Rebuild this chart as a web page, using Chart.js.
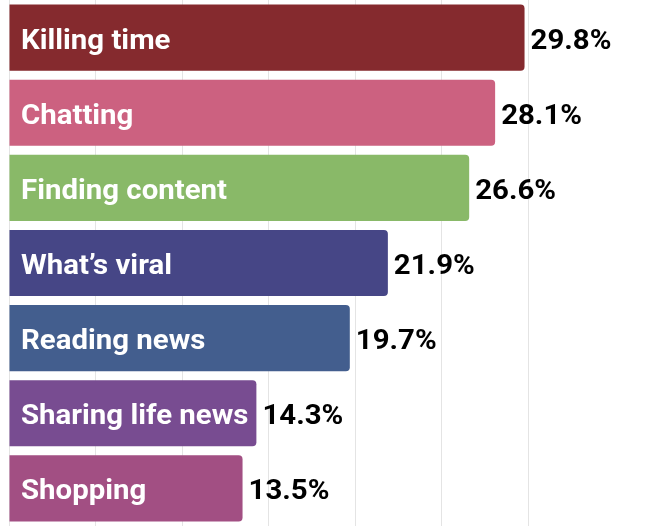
<!DOCTYPE html>
<html>
<head>
<meta charset="utf-8">
<script src="https://cdn.jsdelivr.net/npm/chart.js@4/dist/chart.umd.min.js"></script>
<style>
  html, body { margin: 0; padding: 0; background: #fff; }
  #wrap { width: 646px; height: 532px; }
</style>
</head>
<body>
<div id="wrap"><canvas id="myChart"></canvas></div>
<script>
const categories = ["Killing time", "Chatting", "Finding content", "What\u2019s viral", "Reading news", "Sharing life news", "Shopping"];
const shares = [29.8, 28.1, 26.6, 21.9, 19.7, 14.3, 13.5];
const barColors = ["#852a2e", "#cc6180", "#89b968", "#464686", "#435e8e", "#784c91", "#a24f83"];

const FONT = "bold 28px Roboto";
const STRETCH = 1.05; // the source text is a bit wider than plain Roboto

// draws the category name inside each bar and the value just past its end
const barLabels = {
  id: "barLabels",
  afterDatasetsDraw(chart) {
    const ctx = chart.ctx;
    const meta = chart.getDatasetMeta(0);
    ctx.save();
    ctx.font = FONT;
    ctx.textBaseline = "alphabetic";
    ctx.textAlign = "left";
    meta.data.forEach(function (bar, i) {
      const base = bar.y + 11;
      ctx.save();
      ctx.translate(chart.chartArea.left + 12, base);
      ctx.scale(STRETCH, 1);
      ctx.fillStyle = "#ffffff";
      ctx.fillText(categories[i], 0, 0);
      ctx.restore();

      ctx.save();
      ctx.translate(bar.x + 6, base);
      ctx.scale(STRETCH, 1);
      ctx.fillStyle = "#000000";
      ctx.fillText(shares[i].toFixed(1) + "%", 0, 0);
      ctx.restore();
    });
    ctx.restore();
  },
};

new Chart(document.getElementById("myChart"), {
  type: "bar",
  data: {
    labels: categories,
    datasets: [
      {
        data: shares,
        backgroundColor: barColors,
        borderRadius: 4,
        borderSkipped: "start",
        barPercentage: 0.88,
        categoryPercentage: 1,
      },
    ],
  },
  options: {
    indexAxis: "y",
    responsive: true,
    maintainAspectRatio: false,
    animation: false,
    layout: { padding: { left: 9, right: 118, top: 0, bottom: 6 } },
    plugins: {
      legend: { display: false },
      tooltip: { enabled: false },
    },
    scales: {
      x: {
        min: 0,
        max: 30,
        ticks: { display: false, stepSize: 5 },
        grid: { color: "#e4e4e4", drawTicks: false },
        border: { display: false },
      },
      y: {
        display: false,
      },
    },
  },
  plugins: [barLabels],
});
</script>
</body>
</html>
